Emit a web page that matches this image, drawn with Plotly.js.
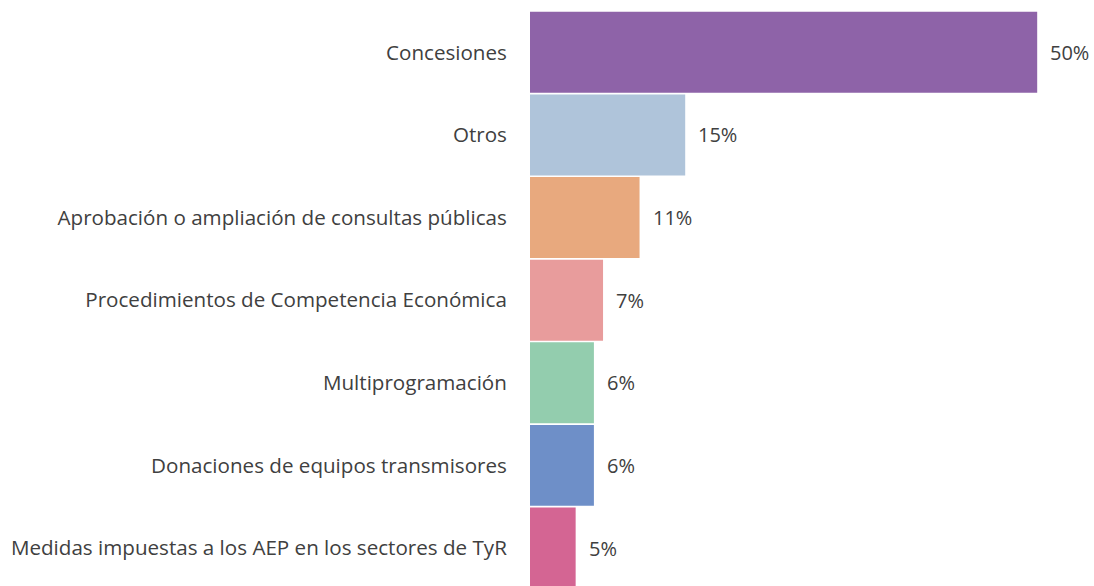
<!DOCTYPE html>
<html>
<head>
<meta charset="utf-8">
<script src="https://cdn.plot.ly/plotly-3.0.1.min.js"></script>
<style>
  html, body { margin: 0; padding: 0; background: #fff; }
  #vis { width: 1094px; height: 586px; }
</style>
</head>
<body>
<div id="vis"></div>
<script>
const categorias = [
  'Concesiones',
  'Otros',
  'Aprobación o ampliación de consultas públicas',
  'Procedimientos de Competencia Económica',
  'Multiprogramación',
  'Donaciones de equipos transmisores',
  'Medidas impuestas a los AEP en los sectores de TyR'
]
const porcentajes = [50, 15.3, 10.8, 7.2, 6.3, 6.3, 4.5]
const etiquetas = ['50%', '15%', '11%', '7%', '6%', '6%', '5%']
const colores = ['#8E63A8', '#AFC4DA', '#E8A97E', '#E89C9C', '#93CDAE', '#6E8FC8', '#D46593']

const fuente = { family: 'Open Sans, sans-serif', size: 20, color: '#404040' }

const traces = [
  {
    type: 'bar',
    orientation: 'h',
    y: categorias,
    x: porcentajes,
    marker: { color: colores, line: { width: 0 } },
    hoverinfo: 'none'
  }
]

// value labels sit a bit away from the bar end
const annotations = categorias.map((c, i) => ({
  x: porcentajes[i],
  y: c,
  text: etiquetas[i],
  showarrow: false,
  xanchor: 'left',
  xshift: 11,
  font: fuente
}))

const layout = {
  width: 1094,
  height: 586,
  margin: { l: 530, r: 0, t: 10.5, b: 0, pad: 0 },
  paper_bgcolor: '#fff',
  plot_bgcolor: '#fff',
  bargap: 0.02,
  showlegend: false,
  xaxis: {
    range: [0, 55.6],
    visible: false,
    fixedrange: true
  },
  yaxis: {
    range: [6.46, -0.5],
    showgrid: false,
    zeroline: false,
    showline: false,
    ticks: 'outside',
    ticklen: 18,
    tickcolor: 'rgba(0,0,0,0)',
    tickfont: { family: fuente.family, size: 20.6, color: fuente.color },
    fixedrange: true
  },
  annotations: annotations
}

Plotly.newPlot('vis', traces, layout, { displayModeBar: false, staticPlot: true })
</script>
</body>
</html>
